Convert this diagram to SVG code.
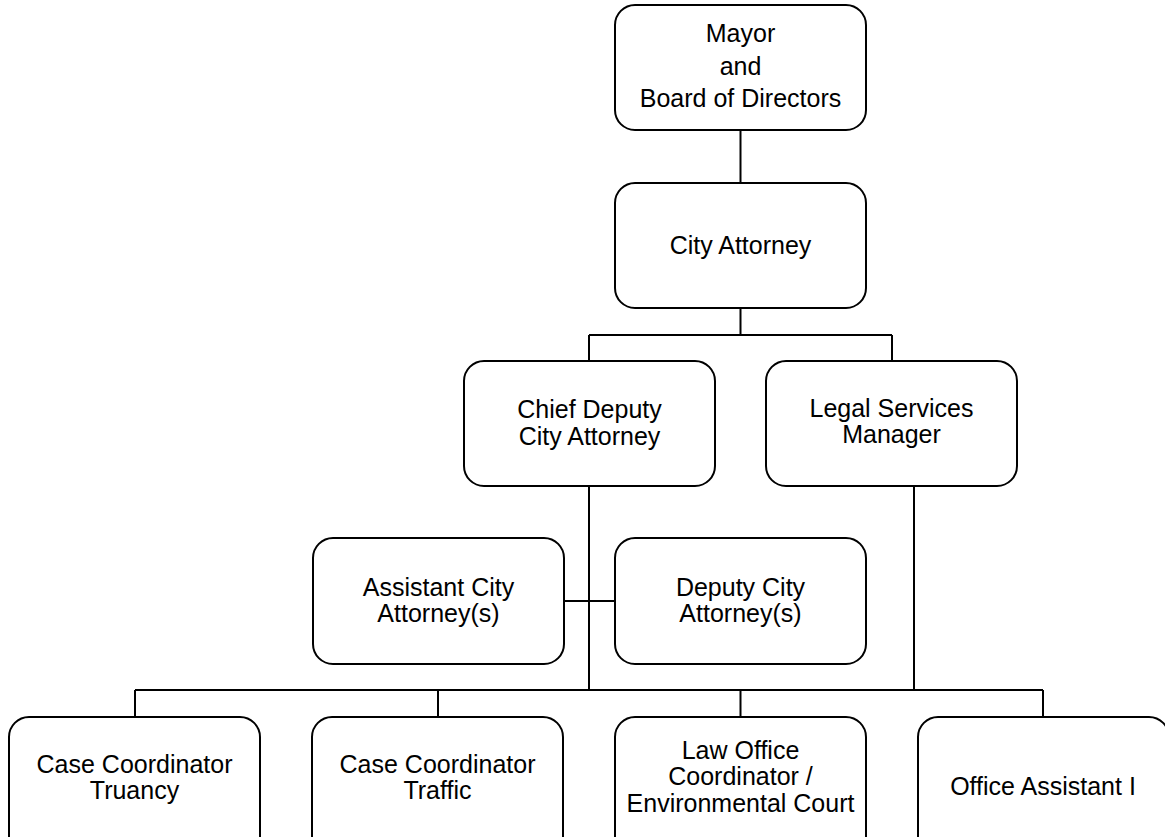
<svg xmlns="http://www.w3.org/2000/svg" width="1165" height="837" viewBox="0 0 1165 837">
  <style>
    .box { fill: #ffffff; stroke: #000000; stroke-width: 2; }
    .lbl { font-family: "Liberation Sans", Arial, sans-serif; font-size: 25px; fill: #000000; text-anchor: middle; }
    .wire { fill: none; stroke: #000000; stroke-width: 2; }
  </style>
  <rect x="0" y="0" width="1165" height="837" fill="#ffffff"/>

  <!-- reporting lines -->
  <g id="connectors" class="wire">
    <path d="M740.5 130 V183"/>
    <path d="M740.5 308 V335 M589 335 H892 M589 335 V361 M892 335 V361"/>
    <path d="M589 486 V690"/>
    <path d="M564 601 H615"/>
    <path d="M914 486 V690"/>
    <path d="M135 690 H1043 M135 690 V717 M438 690 V717 M740.5 690 V717 M1043 690 V717"/>
  </g>

  <g id="mayor">
    <rect class="box" x="615" y="5" width="251" height="125" rx="20"/>
    <text class="lbl" x="740.5" y="42">Mayor</text>
    <text class="lbl" x="740.5" y="74.5">and</text>
    <text class="lbl" x="740.5" y="106.5">Board of Directors</text>
  </g>

  <g id="city-attorney">
    <rect class="box" x="615" y="183" width="251" height="125" rx="20"/>
    <text class="lbl" x="740.5" y="254">City Attorney</text>
  </g>

  <g id="chief-deputy">
    <rect class="box" x="464" y="361" width="251" height="125" rx="20"/>
    <text class="lbl" x="589.5" y="418">Chief Deputy</text>
    <text class="lbl" x="589.5" y="444.5">City Attorney</text>
  </g>

  <g id="legal-services">
    <rect class="box" x="766" y="361" width="251" height="125" rx="20"/>
    <text class="lbl" x="891.5" y="416.5">Legal Services</text>
    <text class="lbl" x="891.5" y="442.5">Manager</text>
  </g>

  <g id="assistant-city-attorney">
    <rect class="box" x="313" y="538" width="251" height="126" rx="20"/>
    <text class="lbl" x="438.5" y="596">Assistant City</text>
    <text class="lbl" x="438.5" y="622">Attorney(s)</text>
  </g>

  <g id="deputy-city-attorney">
    <rect class="box" x="615" y="538" width="251" height="126" rx="20"/>
    <text class="lbl" x="740.5" y="596">Deputy City</text>
    <text class="lbl" x="740.5" y="622">Attorney(s)</text>
  </g>

  <g id="case-coordinator-truancy">
    <rect class="box" x="9" y="717" width="251" height="140" rx="20"/>
    <text class="lbl" x="134.5" y="773">Case Coordinator</text>
    <text class="lbl" x="134.5" y="799">Truancy</text>
  </g>

  <g id="case-coordinator-traffic">
    <rect class="box" x="312" y="717" width="251" height="140" rx="20"/>
    <text class="lbl" x="437.5" y="773">Case Coordinator</text>
    <text class="lbl" x="437.5" y="799">Traffic</text>
  </g>

  <g id="law-office-coordinator">
    <rect class="box" x="615" y="717" width="251" height="140" rx="20"/>
    <text class="lbl" x="740.5" y="759">Law Office</text>
    <text class="lbl" x="740.5" y="785">Coordinator /</text>
    <text class="lbl" x="740.5" y="811.5">Environmental Court</text>
  </g>

  <g id="office-assistant">
    <rect class="box" x="918" y="717" width="251" height="140" rx="20"/>
    <text class="lbl" x="1043" y="794.5">Office Assistant I</text>
  </g>
</svg>
